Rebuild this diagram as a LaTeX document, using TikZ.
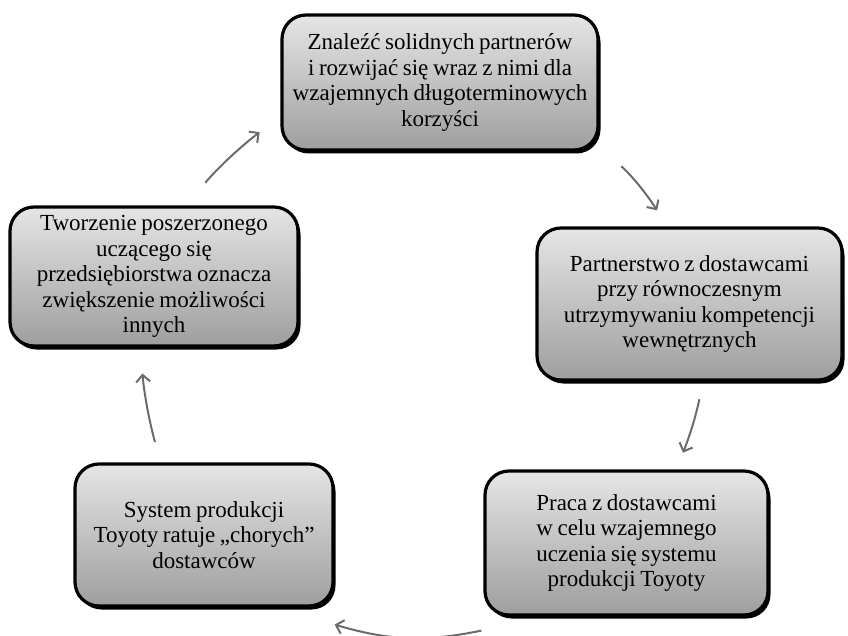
\documentclass[tikz,border=0pt]{standalone}
\usepackage{fontspec}
\setmainfont{Liberation Serif}[WordSpace=0.8]
\usetikzlibrary{positioning,arrows.meta,shadows}

\begin{document}
\begin{tikzpicture}[
			x=1pt, y=-1pt,
			box/.style={
					draw=black,
					line width=3.2pt,
					rounded corners=24pt,
					top color=black!10,
					bottom color=black!38,
					drop shadow={shadow xshift=2.5pt,
							shadow yshift=-3.5pt,
							fill=black, opacity=1},
					align=center,
					inner sep=0pt,
					font=\fontsize{23}{25.5}\selectfont
				},
			link/.style={->, draw=black!58, line width=2pt},
			>={Straight Barb[length=7pt,width=14pt]}
		]

		\useasboundingbox (0,0) rectangle (848,636);

		\node (partners) [box, minimum width=316pt, minimum height=135pt]
		at (440,82.5)
		{Znaleźć solidnych partnerów\\i rozwijać się wraz z nimi dla\\wzajemnych długoterminowych\\korzyści};

		\node (competence) [box, minimum width=305pt, minimum height=152pt]
		at (689.5,304)
		{Partnerstwo  z dostawcami\\przy równoczesnym\\utrzymywaniu kompetencji\\wewnętrznych};

		\node (learning) [box, minimum width=283pt, minimum height=144pt]
		at (626.5,543)
		{Praca z dostawcami\\w celu wzajemnego\\uczenia się systemu\\produkcji Toyoty};

		\node (rescue) [box, minimum width=258pt, minimum height=142pt]
		at (204,535)
		{System produkcji\\Toyoty ratuje „chorych”\\dostawców};

		\node (enterprise) [box, minimum width=288pt, minimum height=139pt]
		at (154,276.5)
		{Tworzenie poszerzonego\\uczącego się\\przedsiębiorstwa oznacza\\zwiększenie możliwości\\innych};

		\draw[link, shorten <=30pt, shorten >=26pt] (enterprise.66) to[bend left=6] (partners.192);
		\draw[link, shorten <=29pt, shorten >=19pt] (partners.-22) to[bend left=8] (competence.106);
		\draw[link, shorten <=18pt, shorten >=18pt] (competence.-80) to[bend left=5] (learning.56);
		\draw[link] ([xshift=-2pt,yshift=-14pt]learning.south west) to[bend left=14] ([yshift=-17pt]rescue.south east);
		\draw[link, shorten <=21pt, shorten >=26pt] (rescue.121) to[bend left=5] (enterprise.-101);

	\end{tikzpicture}
\end{document}
